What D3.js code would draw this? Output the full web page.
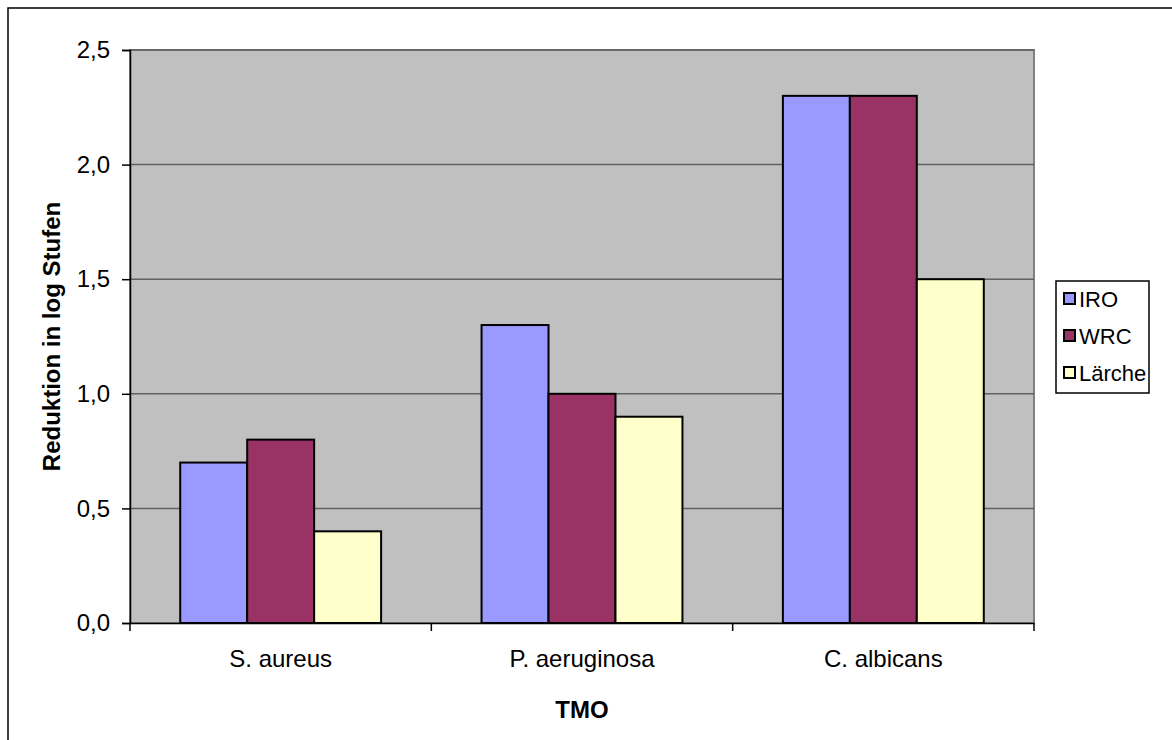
<!DOCTYPE html>
<html><head><meta charset="utf-8">
<script src="https://cdn.jsdelivr.net/npm/d3@7"></script>
<style>body{margin:0;background:#fff;}svg{display:block;font-family:Arial,"Liberation Sans",sans-serif;}</style>
</head><body>
<svg id="c" width="1172" height="740"></svg>
<script>
const categories = ["S. aureus", "P. aeruginosa", "C. albicans"];
const seriesNames = ["IRO", "WRC", "Lärche"];
const IRO = [0.7, 1.3, 2.3];
const WRC = [0.8, 1.0, 2.3];
const Laerche = [0.4, 0.9, 1.5];
const yTicks = [0, 0.5, 1.0, 1.5, 2.0, 2.5];
const colors = ["#9999FF", "#993366", "#FFFFCC"];
const series = [IRO, WRC, Laerche];

const svg = d3.select("#c");
const L = 130, R = 1034, T = 50, B = 623;
const fs = 24;
const ff = "Arial,'Liberation Sans',sans-serif";

svg.append("rect").attr("x",8).attr("y",8).attr("width",1180).attr("height",760)
  .attr("fill","#fff").attr("stroke","#000").attr("stroke-width",1.5);

const x0 = d3.scaleBand().domain(categories).range([L, R]).paddingInner(0).paddingOuter(0);
const y = d3.scaleLinear().domain([0, 2.5]).range([B, T]);
const gap = 1.5;
const bw = x0.bandwidth() / (3 + gap);

svg.append("rect").attr("x",L).attr("y",T).attr("width",R-L).attr("height",B-T)
  .attr("fill","#C0C0C0").attr("stroke","#808080").attr("stroke-width",2);

svg.append("g").selectAll("line").data(yTicks.filter(d=>d>0)).join("line")
  .attr("x1",L).attr("x2",R).attr("y1",d=>y(d)).attr("y2",d=>y(d))
  .attr("stroke","#606060").attr("stroke-width",1.5);

categories.forEach((c,i)=>{
  series.forEach((s,j)=>{
    const xx = x0(c) + bw*gap/2 + j*bw;
    svg.append("rect").attr("x",xx).attr("y",y(s[i])).attr("width",bw).attr("height",y(0)-y(s[i]))
      .attr("fill",colors[j]).attr("stroke","#000").attr("stroke-width",2);
  });
});

// y axis
const ya = svg.append("g").attr("transform",`translate(${L},0)`)
  .call(d3.axisLeft(y).tickValues(yTicks).tickSize(8).tickPadding(12)
    .tickFormat(d=>d3.format(".1f")(d).replace(".",",")));
ya.select(".domain").attr("stroke","#000").attr("stroke-width",1.5);
ya.selectAll(".tick line").attr("stroke","#000").attr("stroke-width",1.5);
ya.selectAll("text").attr("font-size",fs).attr("font-family",ff).attr("fill","#000");

// x axis
const xa = svg.append("g").attr("transform",`translate(0,${B})`)
  .call(d3.axisBottom(x0).tickSize(0).tickPadding(27));
xa.select(".domain").attr("stroke","#000").attr("stroke-width",1.5);
xa.selectAll("text").attr("font-size",fs).attr("font-family",ff).attr("fill","#000");
const bounds = [L, ...categories.map(c=>x0(c)+x0.bandwidth())];
svg.append("g").selectAll("line").data(bounds).join("line")
  .attr("x1",d=>d).attr("x2",d=>d).attr("y1",B).attr("y2",B+8)
  .attr("stroke","#000").attr("stroke-width",1.5);

svg.append("text").attr("x",(L+R)/2).attr("y",718).attr("text-anchor","middle")
  .attr("font-size",fs).attr("font-weight","bold").text("TMO");
svg.append("text").attr("transform",`translate(60,${(T+B)/2}) rotate(-90)`).attr("text-anchor","middle")
  .attr("font-size",fs).attr("font-weight","bold").text("Reduktion in log Stufen");

// legend
const lg = svg.append("g");
lg.append("rect").attr("x",1056).attr("y",281).attr("width",93).attr("height",112)
  .attr("fill","#fff").attr("stroke","#000").attr("stroke-width",1.5);
seriesNames.forEach((n,j)=>{
  const cy = 299 + j*37;
  lg.append("rect").attr("x",1064).attr("y",cy-6).attr("width",11).attr("height",11)
    .attr("fill",colors[j]).attr("stroke","#000").attr("stroke-width",2);
  lg.append("text").attr("x",1079).attr("y",cy+8).attr("font-size",22).text(n);
});
</script>
</body></html>
